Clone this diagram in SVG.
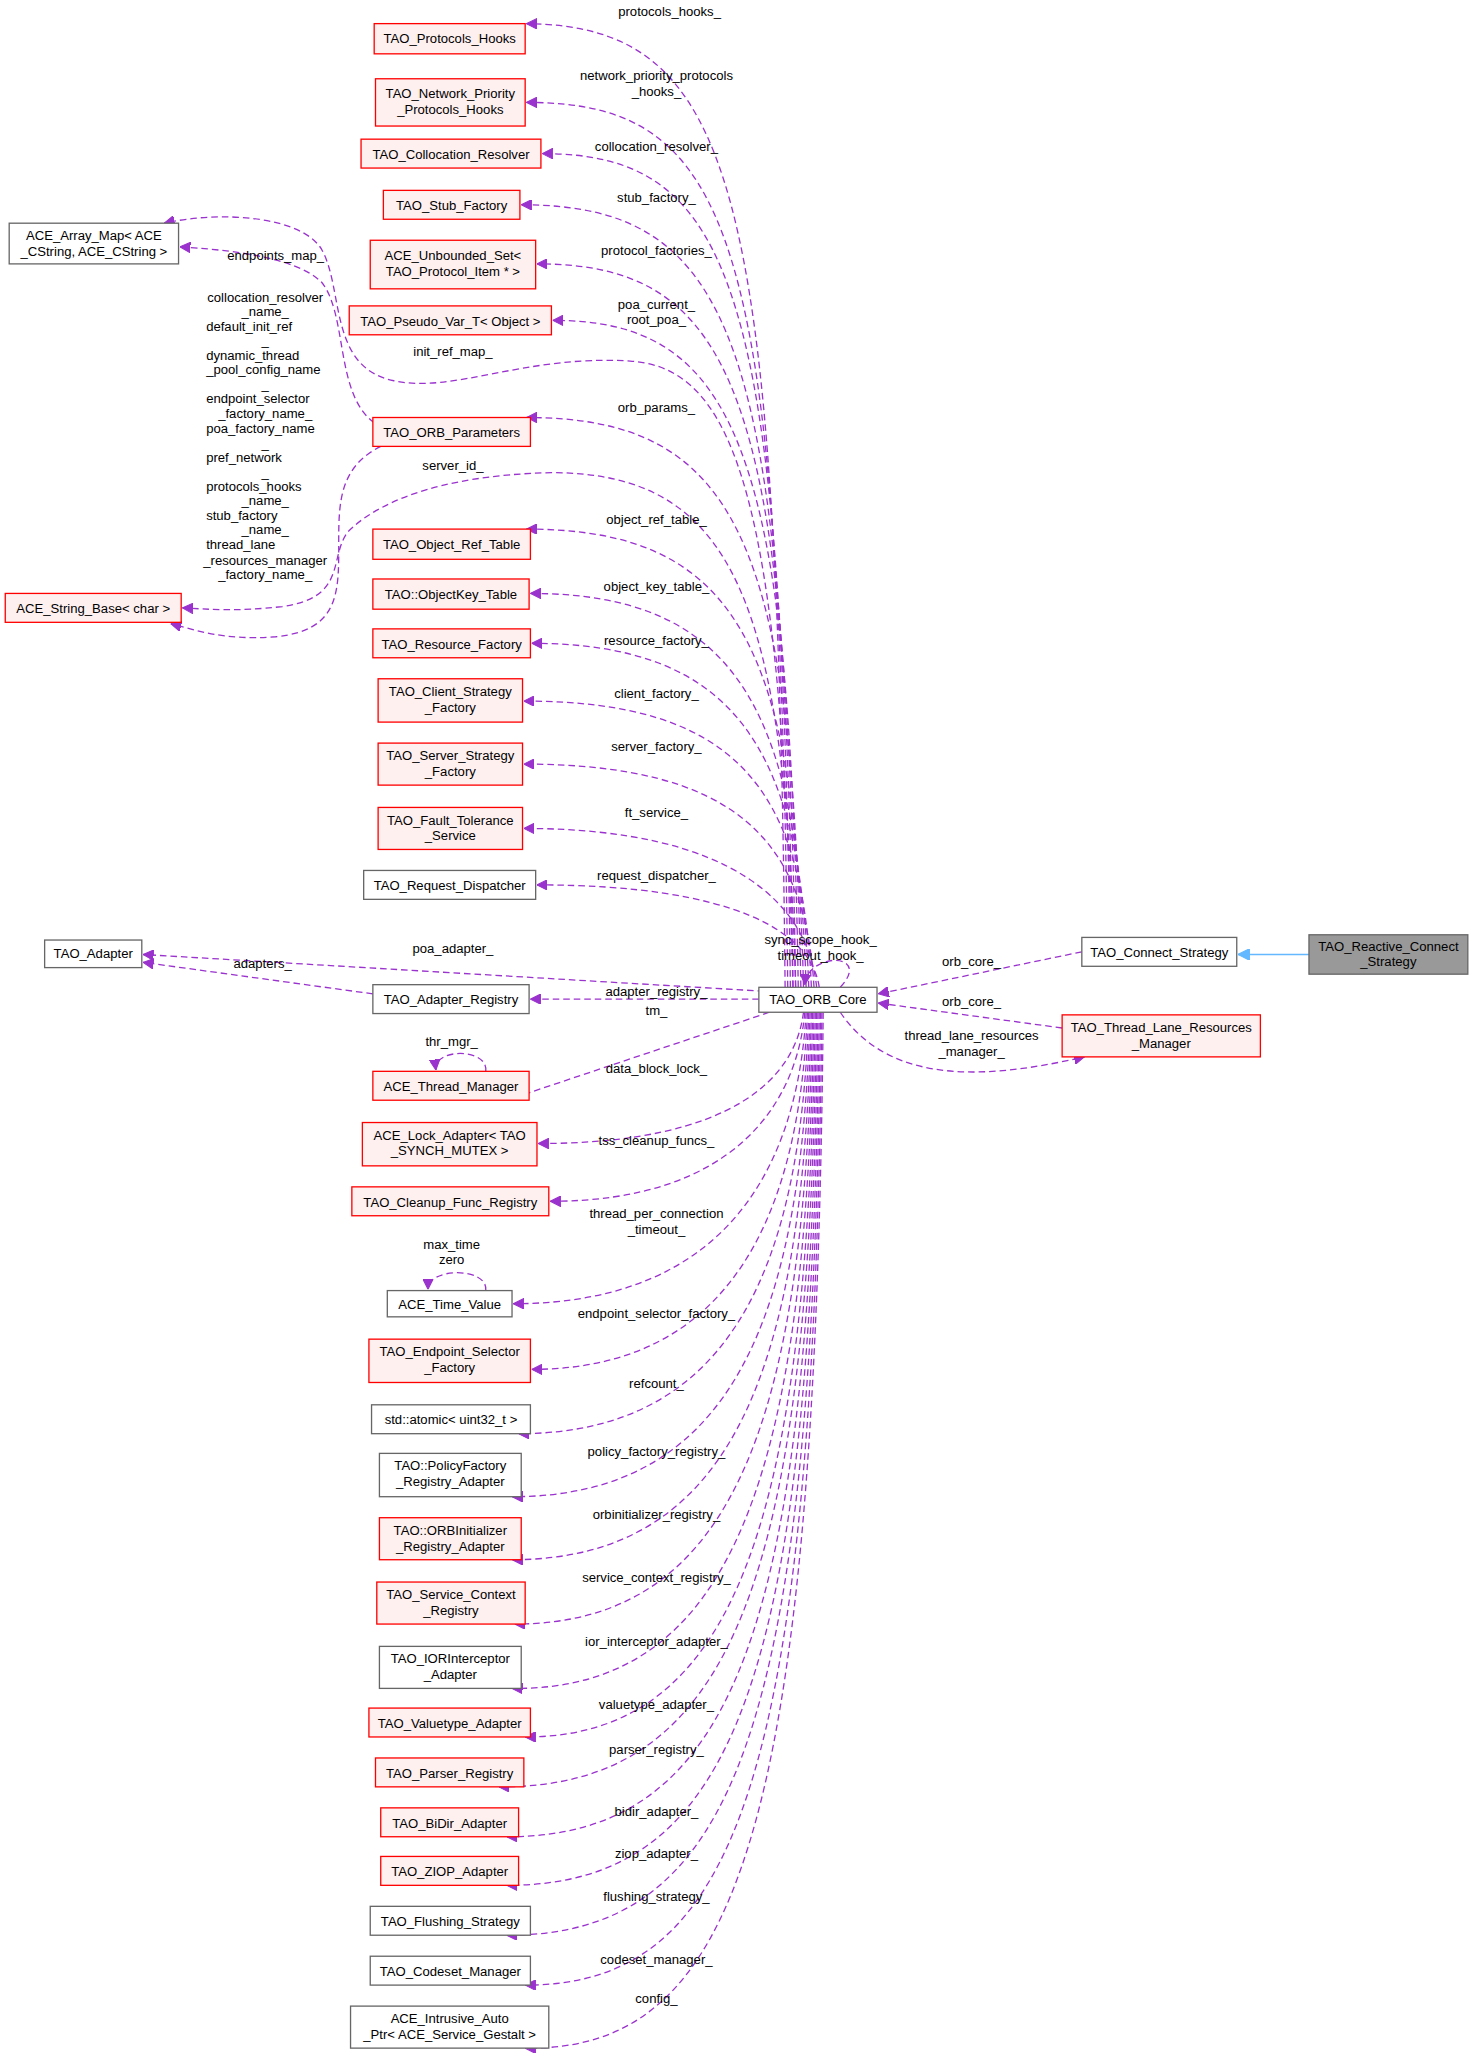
<svg xmlns="http://www.w3.org/2000/svg" width="1477" height="2063" viewBox="0 0 1477 2063">
<style>
text{font-family:"Liberation Sans",Arial,sans-serif;font-size:10px;fill:#000}
.n text{text-anchor:middle}
.r rect{fill:#fff0f0;stroke:#ff0000;stroke-width:1}
.g rect{fill:#fff;stroke:#666;stroke-width:1}
.e path{fill:none;stroke:#9a32cd;stroke-dasharray:5,3;stroke-width:1;marker-end:url(#a)}
.l text{text-anchor:middle}
</style>
<defs>
<marker id="a" viewBox="0 0 10 10" refX="10" refY="5" markerWidth="8" markerHeight="8" orient="auto" markerUnits="userSpaceOnUse"><path d="M0,0 L10,5 L0,10 z" fill="#9a32cd" stroke="#9a32cd"/></marker>
<marker id="b" viewBox="0 0 10 10" refX="10" refY="5" markerWidth="9" markerHeight="9" orient="auto" markerUnits="userSpaceOnUse"><path d="M0,0 L10,5 L0,10 z" fill="#63b8ff" stroke="#63b8ff"/></marker>
</defs>
<rect width="1477" height="2063" fill="#fff"/>
<g transform="scale(1.3129)">
<g id="edges" class="e">
<path d="M598,752 C592,140 560,20 401,18"/>
<path d="M600,752 C594,180 560,78 401,78"/>
<path d="M602,752 C596,220 560,117 413,117"/>
<path d="M604,752 C598,260 560,156 397,156"/>
<path d="M606,752 C600,300 560,201 409,201"/>
<path d="M608,752 C602,340 560,244 421,244"/>
<path d="M610,752 C604,410 560,318 401,318"/>
<path d="M612,752 C606,490 560,403 401,403"/>
<path d="M614,752 C608,540 560,452 404,452"/>
<path d="M616,752 C610,570 560,490 405,490"/>
<path d="M618,752 C612,600 560,534 399,534"/>
<path d="M620,752 C614,640 560,582 399,582"/>
<path d="M622,752 C616,690 560,631 399,631"/>
<path d="M624,752 C618,710 560,674 409,674"/>
<path d="M578,761 L404,761"/>
<path d="M582,755 L109,727"/>
<path d="M284,757 L109,733"/>
<path d="M586,771 L392,836"/>
<path d="M612,771 C606,820 560,871 410,871"/>
<path d="M613,771 C607,840 560,915 419,915"/>
<path d="M614,771 C608,880 560,993 391,993"/>
<path d="M615,771 C609,920 560,1043 405,1043"/>
<path d="M616,771 C610,960 560,1092 395,1092"/>
<path d="M617,771 C611,1000 560,1140 390,1140"/>
<path d="M618,771 C612,1040 560,1188 390,1188"/>
<path d="M619,771 C613,1080 560,1237 392,1237"/>
<path d="M620,771 C614,1120 560,1288 390,1286"/>
<path d="M621,771 C615,1160 560,1323 400,1323"/>
<path d="M622,771 C616,1200 560,1362 380,1361"/>
<path d="M623,771 C617,1240 560,1399 386,1399"/>
<path d="M624,771 C618,1280 560,1436 386,1436"/>
<path d="M625,771 C619,1320 560,1474 386,1474"/>
<path d="M626,771 C620,1360 560,1512 400,1512"/>
<path d="M627,771 C621,1400 560,1562 400,1560"/>
<path d="M604,752 C595,380 560,280 480,275 C400,270 345,300 300,290 C250,280 262,220 245,190 C230,165 170,160 125,170"/>
<path d="M285,322 C255,300 265,240 245,215 C225,195 170,190 137,188"/>
<path d="M606,752 C598,460 560,360 420,360 C330,362 285,385 265,405 C250,425 265,455 215,462 C180,466 160,464 139,463"/>
<path d="M290,340 C260,355 258,380 258,410 C258,450 260,480 210,485 C170,488 150,480 130,475"/>
<path d="M370,816 C372,798 330,798 332,815"/>
<path d="M370,983 C372,965 326,965 326,982"/>
<path d="M640,752 C665,725 615,725 613,750"/>
<path d="M824,725 L669,757"/>
<path d="M809,783 L669,764"/>
<path d="M640,771 C680,830 760,820 826,805"/>
<path d="M997,727 L943,727" style="stroke:#63b8ff;stroke-dasharray:none;marker-end:url(#b)"/>
</g>
<g class="l">
<text x="510" y="12">protocols_hooks_</text>
<text x="500" y="61">network_priority_protocols</text><text x="500" y="73">_hooks_</text>
<text x="500" y="115">collocation_resolver_</text>
<text x="500" y="154">stub_factory_</text>
<text x="500" y="194">protocol_factories_</text>
<text x="500" y="235">poa_current_</text><text x="500" y="247">root_poa_</text>
<text x="345" y="271">init_ref_map_</text>
<text x="500" y="314">orb_params_</text>
<text x="345" y="358">server_id_</text>
<text x="500" y="399">object_ref_table_</text>
<text x="500" y="450">object_key_table_</text>
<text x="500" y="491">resource_factory_</text>
<text x="500" y="532">client_factory_</text>
<text x="500" y="572">server_factory_</text>
<text x="500" y="622">ft_service_</text>
<text x="500" y="670">request_dispatcher_</text>
<text x="345" y="726">poa_adapter_</text>
<text x="500" y="759">adapter_registry_</text>
<text x="500" y="773">tm_</text>
<text x="500" y="817">data_block_lock_</text>
<text x="500" y="872">tss_cleanup_funcs_</text>
<text x="500" y="928">thread_per_connection</text><text x="500" y="940">_timeout_</text>
<text x="500" y="1004">endpoint_selector_factory_</text>
<text x="500" y="1057">refcount_</text>
<text x="500" y="1109">policy_factory_registry_</text>
<text x="500" y="1157">orbinitializer_registry_</text>
<text x="500" y="1205">service_context_registry_</text>
<text x="500" y="1254">ior_interceptor_adapter_</text>
<text x="500" y="1302">valuetype_adapter_</text>
<text x="500" y="1336">parser_registry_</text>
<text x="500" y="1383">bidir_adapter_</text>
<text x="500" y="1415">ziop_adapter_</text>
<text x="500" y="1448">flushing_strategy_</text>
<text x="500" y="1496">codeset_manager_</text>
<text x="500" y="1526">config_</text>
<text x="210" y="198">endpoints_map_</text>
<text x="200" y="737">adapters_</text>
<text x="344" y="797">thr_mgr_</text>
<text x="344" y="951">max_time</text><text x="344" y="963">zero</text>
<text x="625" y="719">sync_scope_hook_</text><text x="625" y="731">timeout_hook_</text>
<text x="740" y="736">orb_core_</text>
<text x="740" y="766">orb_core_</text>
<text x="740" y="792">thread_lane_resources</text><text x="740" y="804">_manager_</text>
<text x="202" y="230">collocation_resolver</text>
<text x="202" y="241">_name_</text>
<text x="157" y="252" style="text-anchor:start">default_init_ref</text>
<text x="202" y="263">_</text>
<text x="157" y="274" style="text-anchor:start">dynamic_thread</text>
<text x="157" y="285" style="text-anchor:start">_pool_config_name</text>
<text x="202" y="296">_</text>
<text x="157" y="307" style="text-anchor:start">endpoint_selector</text>
<text x="202" y="318">_factory_name_</text>
<text x="157" y="330" style="text-anchor:start">poa_factory_name</text>
<text x="202" y="341">_</text>
<text x="157" y="352" style="text-anchor:start">pref_network</text>
<text x="202" y="363">_</text>
<text x="157" y="374" style="text-anchor:start">protocols_hooks</text>
<text x="202" y="385">_name_</text>
<text x="157" y="396" style="text-anchor:start">stub_factory</text>
<text x="202" y="407">_name_</text>
<text x="157" y="418" style="text-anchor:start">thread_lane</text>
<text x="202" y="430">_resources_manager</text>
<text x="202" y="441">_factory_name_</text>
</g>
<g class="n">
<g id="n1" class="r"><rect x="285" y="18" width="115" height="23"/><text x="342.5" y="33">TAO_Protocols_Hooks</text></g>
<g id="n2" class="r"><rect x="286" y="60" width="114" height="36"/><text x="343" y="75">TAO_Network_Priority</text><text x="343" y="87">_Protocols_Hooks</text></g>
<g id="n3" class="r"><rect x="275" y="106" width="137" height="22"/><text x="343.5" y="121">TAO_Collocation_Resolver</text></g>
<g id="n4" class="r"><rect x="292" y="145" width="104" height="22"/><text x="344" y="160">TAO_Stub_Factory</text></g>
<g id="n5" class="r"><rect x="282" y="183" width="126" height="37"/><text x="345" y="198">ACE_Unbounded_Set&lt;</text><text x="345" y="210">TAO_Protocol_Item * &gt;</text></g>
<g id="n6" class="r"><rect x="266" y="233" width="154" height="22"/><text x="343" y="248">TAO_Pseudo_Var_T&lt; Object &gt;</text></g>
<g id="n7" class="r"><rect x="284" y="318" width="120" height="22"/><text x="344" y="333">TAO_ORB_Parameters</text></g>
<g id="n8" class="r"><rect x="284" y="403" width="120" height="23"/><text x="344" y="418">TAO_Object_Ref_Table</text></g>
<g id="n9" class="r"><rect x="284" y="441" width="119" height="23"/><text x="343.5" y="456">TAO::ObjectKey_Table</text></g>
<g id="n10" class="r"><rect x="284" y="479" width="120" height="22"/><text x="344" y="494">TAO_Resource_Factory</text></g>
<g id="n11" class="r"><rect x="288" y="517" width="110" height="33"/><text x="343" y="530">TAO_Client_Strategy</text><text x="343" y="542">_Factory</text></g>
<g id="n12" class="r"><rect x="288" y="566" width="110" height="32"/><text x="343" y="579">TAO_Server_Strategy</text><text x="343" y="591">_Factory</text></g>
<g id="n13" class="r"><rect x="288" y="615" width="110" height="32"/><text x="343" y="628">TAO_Fault_Tolerance</text><text x="343" y="640">_Service</text></g>
<g id="n14" class="g"><rect x="277" y="663" width="131" height="22"/><text x="342.5" y="678">TAO_Request_Dispatcher</text></g>
<g id="n15" class="g"><rect x="284" y="750" width="119" height="22"/><text x="343.5" y="765">TAO_Adapter_Registry</text></g>
<g id="n16" class="r"><rect x="284" y="816" width="119" height="22"/><text x="343.5" y="831">ACE_Thread_Manager</text></g>
<g id="n17" class="r"><rect x="276" y="855" width="133" height="33"/><text x="342.5" y="868">ACE_Lock_Adapter&lt; TAO</text><text x="342.5" y="880">_SYNCH_MUTEX &gt;</text></g>
<g id="n18" class="r"><rect x="268" y="904" width="150" height="22"/><text x="343" y="919">TAO_Cleanup_Func_Registry</text></g>
<g id="n19" class="g"><rect x="295" y="983" width="95" height="20"/><text x="342.5" y="997">ACE_Time_Value</text></g>
<g id="n20" class="r"><rect x="281" y="1020" width="123" height="33"/><text x="342.5" y="1033">TAO_Endpoint_Selector</text><text x="342.5" y="1045">_Factory</text></g>
<g id="n21" class="g"><rect x="283" y="1070" width="121" height="22"/><text x="343.5" y="1085">std::atomic&lt; uint32_t &gt;</text></g>
<g id="n22" class="g"><rect x="289" y="1107" width="108" height="33"/><text x="343" y="1120">TAO::PolicyFactory</text><text x="343" y="1132">_Registry_Adapter</text></g>
<g id="n23" class="r"><rect x="289" y="1156" width="108" height="32"/><text x="343" y="1169">TAO::ORBInitializer</text><text x="343" y="1181">_Registry_Adapter</text></g>
<g id="n24" class="r"><rect x="287" y="1205" width="113" height="32"/><text x="343.5" y="1218">TAO_Service_Context</text><text x="343.5" y="1230">_Registry</text></g>
<g id="n25" class="g"><rect x="289" y="1254" width="108" height="32"/><text x="343" y="1267">TAO_IORInterceptor</text><text x="343" y="1279">_Adapter</text></g>
<g id="n26" class="r"><rect x="281" y="1301" width="123" height="22"/><text x="342.5" y="1316">TAO_Valuetype_Adapter</text></g>
<g id="n27" class="r"><rect x="286" y="1339" width="113" height="22"/><text x="342.5" y="1354">TAO_Parser_Registry</text></g>
<g id="n28" class="r"><rect x="290" y="1377" width="105" height="22"/><text x="342.5" y="1392">TAO_BiDir_Adapter</text></g>
<g id="n29" class="r"><rect x="290" y="1414" width="105" height="22"/><text x="342.5" y="1429">TAO_ZIOP_Adapter</text></g>
<g id="n30" class="g"><rect x="282" y="1452" width="122" height="22"/><text x="343" y="1467">TAO_Flushing_Strategy</text></g>
<g id="n31" class="g"><rect x="282" y="1490" width="122" height="22"/><text x="343" y="1505">TAO_Codeset_Manager</text></g>
<g id="n32" class="g"><rect x="267" y="1528" width="151" height="32"/><text x="342.5" y="1541">ACE_Intrusive_Auto</text><text x="342.5" y="1553">_Ptr&lt; ACE_Service_Gestalt &gt;</text></g>
<g id="n33" class="g"><rect x="7" y="170" width="129" height="31"/><text x="71.5" y="183">ACE_Array_Map&lt; ACE</text><text x="71.5" y="195">_CString, ACE_CString &gt;</text></g>
<g id="n34" class="r"><rect x="4" y="452" width="134" height="22"/><text x="71" y="467">ACE_String_Base&lt; char &gt;</text></g>
<g id="n35" class="g"><rect x="34" y="716" width="74" height="21"/><text x="71" y="730">TAO_Adapter</text></g>
<g id="core" class="g"><rect x="578" y="752" width="90" height="19"/><text x="623" y="765">TAO_ORB_Core</text></g>
<g id="connect" class="g"><rect x="824" y="714" width="118" height="22"/><text x="883" y="729">TAO_Connect_Strategy</text></g>
<g id="reactive"><rect x="997" y="712" width="121" height="30" fill="#999" stroke="#666"/><text x="1057.5" y="724">TAO_Reactive_Connect</text><text x="1057.5" y="736">_Strategy</text></g>
<g id="tlrm" class="r"><rect x="809" y="773" width="151" height="32"/><text x="884.5" y="786">TAO_Thread_Lane_Resources</text><text x="884.5" y="798">_Manager</text></g>
</g>
</g>
</svg>
